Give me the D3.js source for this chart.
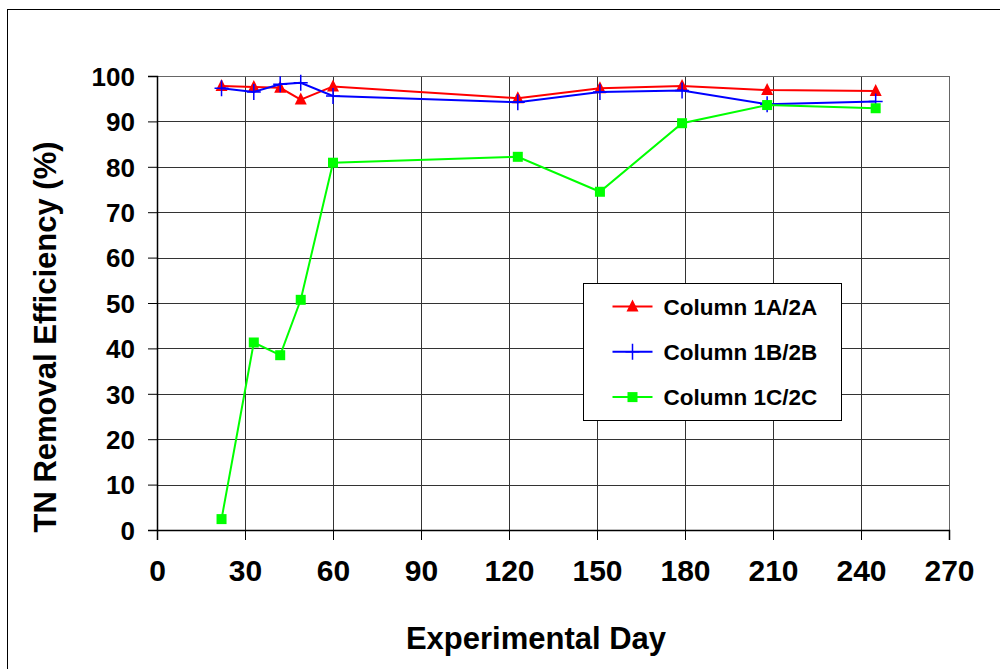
<!DOCTYPE html>
<html>
<head>
<meta charset="utf-8">
<script src="https://cdnjs.cloudflare.com/ajax/libs/d3/7.8.5/d3.min.js"></script>
<style>
  body { margin: 0; background: #fff; }
  svg text { font-family: "Liberation Sans", Arial, sans-serif; font-weight: bold; fill: #000; }
</style>
</head>
<body>
<div id="chart"></div>
<script>
// Data
const days = [22, 33, 42, 49, 60, 123, 151, 179, 208, 245];
const column1A = [97.8, 97.6, 97.4, 94.8, 97.7, 95.1, 97.3, 97.8, 96.9, 96.7];
const column1B = [97.3, 96.5, 98.2, 98.5, 95.6, 94.2, 96.5, 96.8, 93.8, 94.4];
const column1C = [2.4, 41.3, 38.5, 50.7, 80.9, 82.2, 74.5, 89.6, 93.6, 92.9];
const seriesNames = ["Column 1A/2A", "Column 1B/2B", "Column 1C/2C"];
const xTicks = [0, 30, 60, 90, 120, 150, 180, 210, 240, 270];
const yTicks = [0, 10, 20, 30, 40, 50, 60, 70, 80, 90, 100];

const W = 1000, H = 669;
const margin = {top: 76, right: 51, bottom: 139, left: 157};
const width = W - margin.left - margin.right,
      height = H - margin.top - margin.bottom;

const svg = d3.select("#chart").append("svg")
    .attr("width", W)
    .attr("height", H);

// outer chart frame (runs off the right and bottom edges)
svg.append("rect")
    .attr("x", 7.5).attr("y", 9.5)
    .attr("width", W + 20).attr("height", H + 20)
    .attr("fill", "none").attr("stroke", "#000").attr("stroke-width", 1);

const g = svg.append("g")
    .attr("transform", `translate(${margin.left},${margin.top})`);

// Scales
const x = d3.scaleLinear().domain([0, 270]).range([0, width]);
const y = d3.scaleLinear().domain([0, 100]).range([height, 0]);

// Grid lines
g.append("g")
    .selectAll("line")
    .data(yTicks.slice(1))
    .enter().append("line")
    .attr("x1", 0).attr("x2", width)
    .attr("y1", d => Math.round(y(d)) + 0.5).attr("y2", d => Math.round(y(d)) + 0.5)
    .attr("stroke", "#333").attr("stroke-width", 1);

g.append("g")
    .selectAll("line")
    .data(xTicks.slice(1))
    .enter().append("line")
    .attr("x1", d => Math.round(x(d)) + 0.5).attr("x2", d => Math.round(x(d)) + 0.5)
    .attr("y1", 0).attr("y2", height)
    .attr("stroke", "#333").attr("stroke-width", 1);

// top / right plot border
g.append("line").attr("x1", 0).attr("x2", width).attr("y1", 0.5).attr("y2", 0.5)
    .attr("stroke", "#666");
g.append("line").attr("x1", width + 0.5).attr("x2", width + 0.5).attr("y1", 0).attr("y2", height)
    .attr("stroke", "#666");

// Axes
const xAxis = g.append("g")
    .attr("transform", `translate(0,${height})`)
    .call(d3.axisBottom(x).tickValues(xTicks).tickSize(10).tickPadding(20).tickFormat(d3.format("d")));
const yAxis = g.append("g")
    .call(d3.axisLeft(y).tickValues(yTicks).tickSize(9).tickPadding(13).tickFormat(d3.format("d")));

[xAxis, yAxis].forEach(a => {
    a.select(".domain").attr("stroke", "#000").attr("stroke-width", 1.5);
    a.selectAll(".tick line").attr("stroke", "#000");
});
xAxis.selectAll("text").style("font-size", "30px").attr("dy", "0.71em");
yAxis.selectAll("text").style("font-size", "26px").attr("dy", "0.36em");

// Series
const series = [
    {name: seriesNames[0], values: column1A, color: "#ff0000", marker: "triangle"},
    {name: seriesNames[1], values: column1B, color: "#0000ff", marker: "plus"},
    {name: seriesNames[2], values: column1C, color: "#00ff00", marker: "square"}
];

const line = d3.line()
    .x(d => x(d.day))
    .y(d => y(d.value));

function drawMarker(sel, type, color) {
    if (type === "triangle") {
        sel.append("path").attr("d", "M0,-7L6,5L-6,5Z").attr("fill", color);
    } else if (type === "plus") {
        sel.append("path").attr("d", "M-7,0H7M0,-8V8").attr("stroke", color).attr("stroke-width", 1.5);
    } else {
        sel.append("rect").attr("x", -5).attr("y", -5).attr("width", 10).attr("height", 10).attr("fill", color);
    }
}

series.forEach(s => {
    const pts = days.map((d, i) => ({day: d, value: s.values[i]}));
    g.append("path")
        .datum(pts)
        .attr("fill", "none")
        .attr("stroke", s.color)
        .attr("stroke-width", 2)
        .attr("d", line);
    g.selectAll(null)
        .data(pts)
        .enter().append("g")
        .attr("transform", d => `translate(${x(d.day)},${y(d.value)})`)
        .each(function() { drawMarker(d3.select(this), s.marker, s.color); });
});

// Legend
const legend = svg.append("g").attr("transform", "translate(583.5,283.5)");
legend.append("rect")
    .attr("width", 258).attr("height", 137)
    .attr("fill", "#fff").attr("stroke", "#000").attr("stroke-width", 1);
series.forEach((s, i) => {
    const row = legend.append("g").attr("transform", `translate(0,${23 + i * 45.3})`);
    row.append("line").attr("x1", 29).attr("x2", 69).attr("y1", 0).attr("y2", 0)
        .attr("stroke", s.color).attr("stroke-width", 2);
    drawMarker(row.append("g").attr("transform", "translate(49,0)"), s.marker, s.color);
    row.append("text")
        .attr("x", 80).attr("dy", "0.36em")
        .style("font-size", "22.5px")
        .text(s.name);
});

// Axis titles
svg.append("text")
    .attr("x", 536).attr("y", 649)
    .attr("text-anchor", "middle")
    .style("font-size", "31px")
    .text("Experimental Day");

svg.append("text")
    .attr("transform", "translate(56,337) rotate(-90)")
    .attr("text-anchor", "middle")
    .style("font-size", "31px")
    .text("TN Removal Efficiency (%)");
</script>
</body>
</html>
